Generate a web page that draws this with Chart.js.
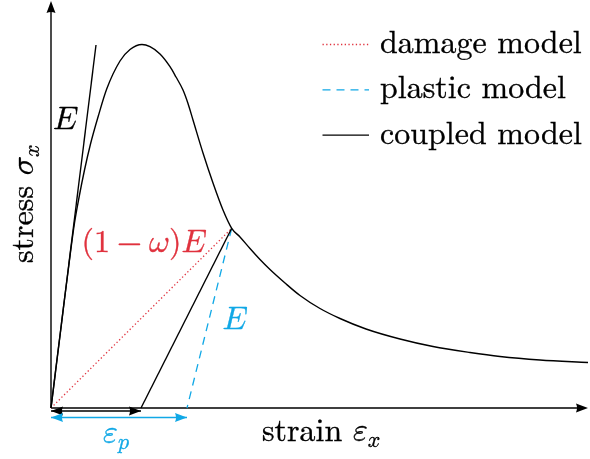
<!DOCTYPE html>
<html lang="en">
<head>
<meta charset="UTF-8">
<title>stress-strain models</title>
<script src="https://cdn.jsdelivr.net/npm/chart.js"></script>
<style>
  body { margin: 0; background: #fff; }
</style>
</head>
<body>
<canvas id="chart" width="590" height="459"></canvas>
<script>
// coupled model response (strain, stress) in arbitrary units
const coupledStrain = [0, 0.124, 0.19, 0.235, 0.283, 0.335, 0.395, 0.473, 0.557, 0.69, 0.79, 0.91, 0.99, 1.09, 1.19, 1.25, 1.32, 1.37, 1.42, 1.52, 1.62, 1.72, 1.807,
  1.89, 1.99, 2.09, 2.19, 2.34, 2.49, 2.69, 2.89, 3.15, 3.49, 3.82, 4.19, 4.49, 4.89, 5.37];
const coupledStress = [0, 1.00, 1.52, 1.85, 2.12, 2.38, 2.64, 2.92, 3.19, 3.47, 3.585, 3.635, 3.613, 3.54, 3.413, 3.31, 3.18, 3.045, 2.88, 2.55, 2.25, 1.98, 1.797,
  1.71, 1.595, 1.485, 1.385, 1.25, 1.125, 0.995, 0.895, 0.79, 0.69, 0.615, 0.555, 0.515, 0.48, 0.455];

// initial stiffness E
const elasticStrain = [0, 0.45];
const elasticStress = [0, 3.63];

// unloading paths from the same point
const unloadStrain = [1.807, 0.9];
const unloadStress = [1.797, 0];
const plasticStrain = [1.807, 1.36];
const plasticStress = [1.797, 0];
const damageStrain = [0, 1.807];
const damageStress = [0, 1.797];

// permanent strain markers
const epsCoupled = [0, 0.9];
const epsPlastic = [0, 1.36];

const legendLabels = ['damage model', 'plastic model', 'coupled model'];

const RED = '#e0323e';
const CYAN = '#10a8e6';
const FONT = '"Latin Modern Roman", "Liberation Serif", serif';
const MATH = '"Latin Modern Math", "Latin Modern Roman", "Liberation Serif", serif';
const FS = 32;

const pts = (xs, ys) => xs.map((x, i) => ({x: x, y: ys[i]}));

// math italic letters
const mE = '\u{1D438}', mEps = '\u{1D700}', mSig = '\u{1D70E}', mOm = '\u{1D714}', mx = '\u{1D465}', mp = '\u{1D45D}';

// text labels: parts are drawn one after another on the baseline
const notes = [
  {x: 0.02, y: 2.79, color: '#000', parts: [{t: mE, m: true}]},
  {x: 0.305, y: 1.56, color: RED, parts: [{t: '('}, {t: '1'}, {gap: 0.222}, {t: '\u2212', m: true}, {gap: 0.222}, {t: mOm, m: true}, {t: ')'}, {t: mE, m: true}]},
  {x: 1.715, y: 0.79, color: CYAN, parts: [{t: mE, m: true}]},
  {x: 0.52, y: -0.35, color: CYAN, parts: [{t: mEps, m: true}, {t: mp, m: true, sub: true}]},
  {x: 2.11, y: -0.33, color: '#000', parts: [{t: 'strain '}, {t: mEps, m: true}, {t: mx, m: true, sub: true}]},
  {x: -0.18, y: 1.45, color: '#000', rot: true, parts: [{t: 'stress '}, {t: mSig, m: true}, {t: mx, m: true, sub: true}]}
];

function drawRich(ctx, parts, x, y, color) {
  let cx = x;
  ctx.fillStyle = color;
  ctx.strokeStyle = color;
  ctx.lineWidth = 0.35;
  ctx.setLineDash([]);
  ctx.textBaseline = 'alphabetic';
  ctx.textAlign = 'left';
  parts.forEach(p => {
    if (p.gap) { cx += p.gap * FS; return; }
    const fs = p.sub ? Math.round(FS * 0.7) : FS;
    const ty = y + (p.sub ? FS * 0.2 : 0);
    ctx.font = fs + 'px ' + (p.m ? MATH : FONT);
    ctx.fillText(p.t, cx, ty);
    ctx.strokeText(p.t, cx, ty);
    cx += ctx.measureText(p.t).width;
  });
}

function arrowHead(ctx, x, y, ang, color) {
  ctx.save();
  ctx.translate(x, y);
  ctx.rotate(ang);
  ctx.fillStyle = color;
  ctx.beginPath();
  ctx.moveTo(0, 0);
  ctx.lineTo(-12, -4.5);
  ctx.quadraticCurveTo(-10, 0, -12, 4.5);
  ctx.closePath();
  ctx.fill();
  ctx.restore();
}

const figurePlugin = {
  id: 'figure',
  beforeDatasetsDraw(chart) {
    const ctx = chart.ctx;
    const xs = chart.scales.x, ys = chart.scales.y;
    const x0 = xs.getPixelForValue(0), y0 = ys.getPixelForValue(0);
    const x1 = xs.getPixelForValue(xs.max), y1 = ys.getPixelForValue(ys.max);
    ctx.save();
    ctx.strokeStyle = '#000';
    ctx.lineWidth = 1.4;
    ctx.beginPath();
    ctx.moveTo(x0, y0); ctx.lineTo(x1 - 6, y0);
    ctx.moveTo(x0, y0); ctx.lineTo(x0, y1 + 6);
    ctx.stroke();
    arrowHead(ctx, x1, y0, 0, '#000');
    arrowHead(ctx, x0, y1, -Math.PI / 2, '#000');
    ctx.restore();
  },
  afterDatasetsDraw(chart) {
    const ctx = chart.ctx;
    const xs = chart.scales.x, ys = chart.scales.y;
    ctx.save();
    // arrow heads on the strain markers
    chart.data.datasets.forEach((ds, i) => {
      if (!ds.arrows) return;
      const els = chart.getDatasetMeta(i).data;
      const a = els[0], b = els[els.length - 1];
      arrowHead(ctx, a.x, a.y, Math.PI, ds.borderColor);
      arrowHead(ctx, b.x, b.y, 0, ds.borderColor);
    });
    // labels
    notes.forEach(n => {
      const px = xs.getPixelForValue(n.x), py = ys.getPixelForValue(n.y);
      if (n.rot) {
        ctx.save();
        ctx.translate(px, py);
        ctx.rotate(-Math.PI / 2);
        drawRich(ctx, n.parts, 0, 0, n.color);
        ctx.restore();
      } else {
        drawRich(ctx, n.parts, px, py, n.color);
      }
    });
    // legend
    legendLabels.forEach((lab, k) => {
      const ds = chart.data.datasets.find(d => d.label === lab);
      const ly = 44.5 + k * 45.3;
      ctx.strokeStyle = ds.borderColor;
      ctx.lineWidth = ds.borderWidth;
      ctx.setLineDash(ds.borderDash || []);
      ctx.beginPath();
      ctx.moveTo(322.5, ly);
      ctx.lineTo(369, ly);
      ctx.stroke();
      ctx.setLineDash([]);
      drawRich(ctx, [{t: lab}], 380, ly + 8.5, '#000');
    });
    ctx.restore();
  }
};

function makeChart() {
  new Chart(document.getElementById('chart'), {
    type: 'scatter',
    data: {
      datasets: [
        {label: 'coupled model', data: pts(coupledStrain, coupledStress), borderColor: '#000', borderWidth: 1.4, cubicInterpolationMode: 'monotone'},
        {label: 'E', data: pts(elasticStrain, elasticStress), borderColor: '#000', borderWidth: 1.4},
        {label: 'unloading', data: pts(unloadStrain, unloadStress), borderColor: '#000', borderWidth: 1.4},
        {label: 'plastic model', data: pts(plasticStrain, plasticStress), borderColor: CYAN, borderWidth: 1.3, borderDash: [8, 6]},
        {label: 'damage model', data: pts(damageStrain, damageStress), borderColor: RED, borderWidth: 1.3, borderDash: [1.3, 2.4]},
        {label: 'eps coupled', data: pts(epsCoupled, [-0.03, -0.03]), borderColor: '#000', borderWidth: 1.3, arrows: true},
        {label: 'eps plastic', data: pts(epsPlastic, [-0.095, -0.095]), borderColor: CYAN, borderWidth: 1.3, arrows: true}
      ]
    },
    options: {
      responsive: false,
      animation: false,
      devicePixelRatio: 1,
      layout: { padding: {left: 51, right: 2, top: 1, bottom: 51} },
      datasets: { scatter: { showLine: true, pointRadius: 0, clip: false, fill: false } },
      scales: {
        x: { type: 'linear', min: 0, max: 5.37, display: false },
        y: { type: 'linear', min: 0, max: 4.07, display: false }
      },
      plugins: { legend: { display: false }, tooltip: { enabled: false } }
    },
    plugins: [figurePlugin]
  });
}

Promise.all([
  document.fonts.load(FS + 'px "Latin Modern Roman"'),
  document.fonts.load(FS + 'px "Latin Modern Math"', mE + mEps + mSig + mOm + mx + mp)
]).then(makeChart, makeChart);
</script>
</body>
</html>
